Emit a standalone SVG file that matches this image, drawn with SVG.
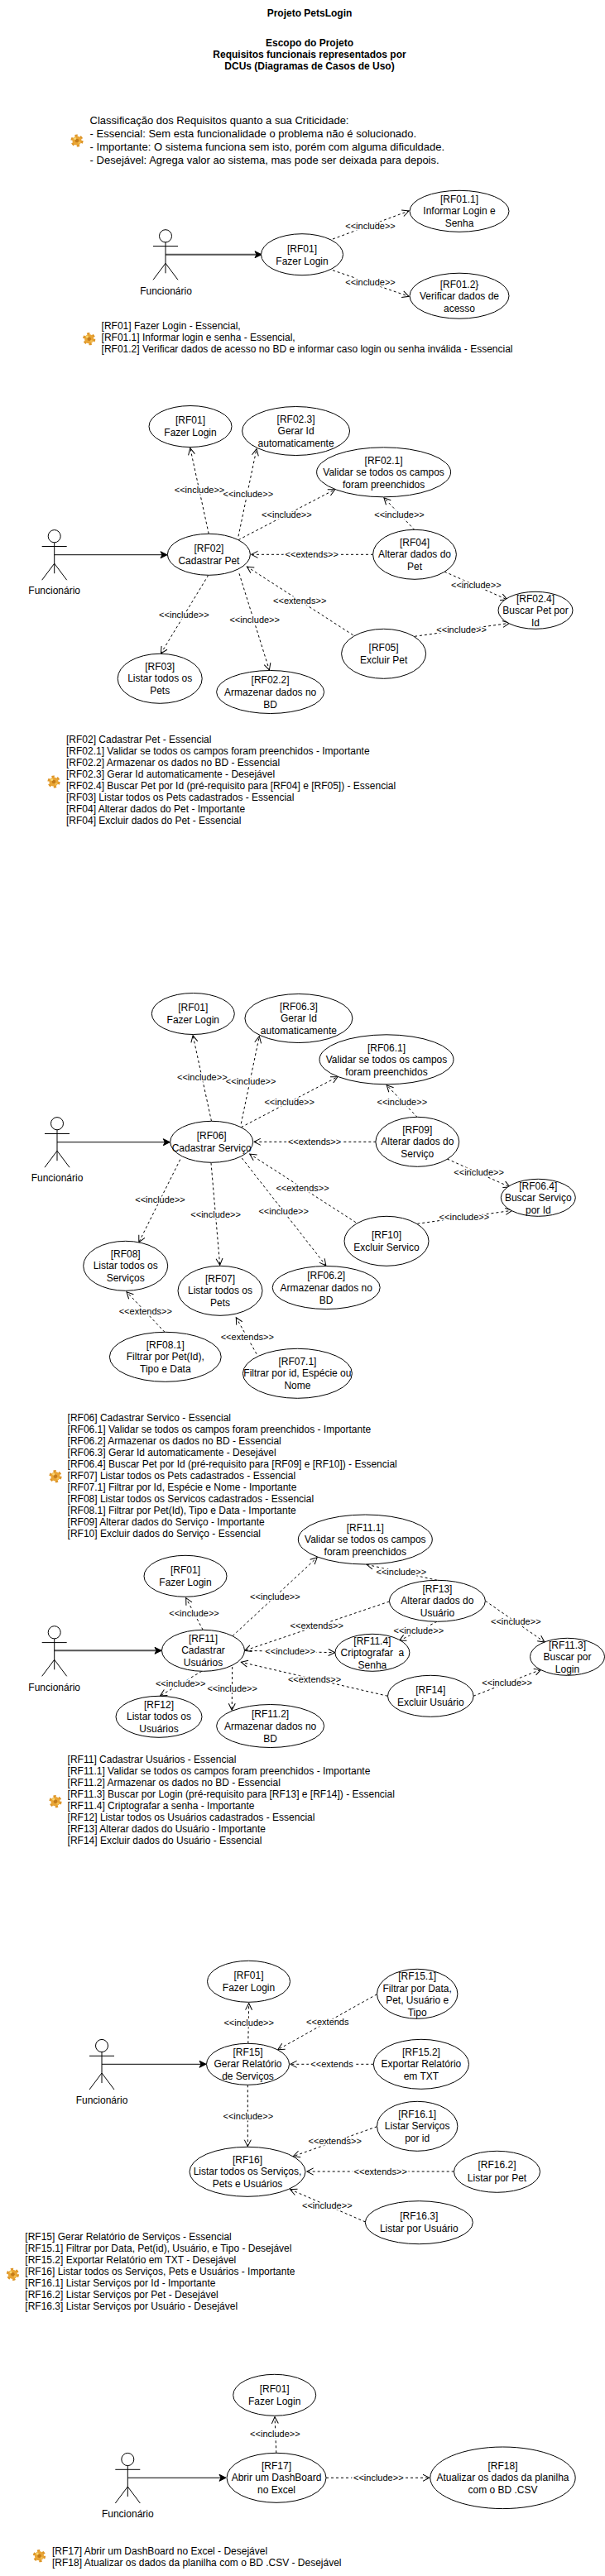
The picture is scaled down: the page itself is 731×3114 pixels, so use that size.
<svg xmlns="http://www.w3.org/2000/svg" xmlns:xlink="http://www.w3.org/1999/xlink" width="731" height="3114" viewBox="0 0 731 3114">
<style>
text{font-family:"Liberation Sans",Arial,sans-serif;fill:#000}
.b{font-size:12px;font-weight:bold;text-anchor:middle}
.t{font-size:12px}
.c{font-size:13px}
.n{font-size:12px;text-anchor:middle}
.l{font-size:11px;text-anchor:middle;paint-order:stroke;stroke:#fff;stroke-width:3px}
.u{fill:#fff;stroke:#000;stroke-width:1}
.a{fill:none;stroke:#000;stroke-width:1}
.d{fill:none;stroke:#000;stroke-width:1;stroke-dasharray:3 3;marker-end:url(#open)}
.s{fill:none;stroke:#000;stroke-width:1;marker-end:url(#solid)}
.s2{fill:none;stroke:#555;stroke-width:2;marker-end:url(#solid)}
</style>
<defs>
<marker id="open" markerUnits="userSpaceOnUse" markerWidth="12" markerHeight="12" refX="9" refY="6" orient="auto"><path d="M1 2 L9 6 L1 10" fill="none" stroke="#000" stroke-width="1"/></marker>
<marker id="solid" markerUnits="userSpaceOnUse" markerWidth="10" markerHeight="10" refX="9" refY="5" orient="auto"><path d="M1 1 L9 5 L1 9 L3 5 Z" fill="#000" stroke="#000" stroke-width="1"/></marker>
<g id="gear"><circle r="6.2" fill="none" stroke="#dd9528" stroke-width="2.8" stroke-dasharray="3.2 3.3"/><circle r="5.6" fill="#e9a535"/><circle r="2.3" fill="#c47c1a"/><circle cx="-2.4" cy="-2.6" r="1.5" fill="#f9d873"/><circle cx="2.8" cy="2.6" r="1.3" fill="#f3c154"/></g>
<g id="actor"><ellipse class="u" cx="0" cy="0" rx="7.5" ry="7.6"/><path class="a" d="M0 7.6V45M-15 12.3H15M0 33L-15 53M0 33L15 53"/></g>
</defs>
<g id="connectors">
<path class="s2" d="M200 307.7H316"/>
<path class="d" d="M402 289L494 255"/><text class="l" x="447.5" y="277">&lt;&lt;include&gt;&gt;</text>
<path class="d" d="M402 326.7L494 358.3"/><text class="l" x="447.5" y="345">&lt;&lt;include&gt;&gt;</text>

<path class="s" d="M65.7 670.7H202"/>
<path class="d" d="M252.2 645.3L229.8 541.7"/><text class="l" x="241" y="596">&lt;&lt;include&gt;&gt;</text>
<path class="d" d="M288 648.3L310 542.7"/><text class="l" x="299.8" y="601">&lt;&lt;include&gt;&gt;</text>
<path class="d" d="M288 652.7L404.7 591.7"/><text class="l" x="346.4" y="626">&lt;&lt;include&gt;&gt;</text>
<path class="d" d="M501 640.7L463.9 601.7"/><text class="l" x="482.5" y="625.5">&lt;&lt;include&gt;&gt;</text>
<path class="d" d="M451 670.3H303.5"/><text class="l" x="376.7" y="674">&lt;&lt;extends&gt;&gt;</text>
<path class="d" d="M537 691L613 725"/><text class="l" x="575.3" y="711">&lt;&lt;include&gt;&gt;</text>
<path class="d" d="M426.6 767.7L298.4 685"/><text class="l" x="362.2" y="730">&lt;&lt;extends&gt;&gt;</text>
<path class="d" d="M501 769.3L615.4 753.3"/><text class="l" x="557.6" y="765">&lt;&lt;include&gt;&gt;</text>
<path class="d" d="M251.7 695.3L194.4 790"/><text class="l" x="222.4" y="747">&lt;&lt;include&gt;&gt;</text>
<path class="d" d="M289 693.3L325.4 810"/><text class="l" x="307.7" y="753">&lt;&lt;include&gt;&gt;</text>

<path class="s" d="M69 1380.7H205.3"/>
<path class="d" d="M255.5 1355.3L233.1 1251.7"/><text class="l" x="244.3" y="1306">&lt;&lt;include&gt;&gt;</text>
<path class="d" d="M291.3 1358.3L313.3 1252.7"/><text class="l" x="303.1" y="1311">&lt;&lt;include&gt;&gt;</text>
<path class="d" d="M291.3 1362.7L408 1301.7"/><text class="l" x="349.7" y="1336">&lt;&lt;include&gt;&gt;</text>
<path class="d" d="M504.3 1350.7L467.2 1311.7"/><text class="l" x="485.8" y="1335.5">&lt;&lt;include&gt;&gt;</text>
<path class="d" d="M454.3 1380.3H306.8"/><text class="l" x="380" y="1384">&lt;&lt;extends&gt;&gt;</text>
<path class="d" d="M540.3 1401L616.3 1435"/><text class="l" x="578.6" y="1421">&lt;&lt;include&gt;&gt;</text>
<path class="d" d="M429.9 1477.7L301.7 1395"/><text class="l" x="365.5" y="1440">&lt;&lt;extends&gt;&gt;</text>
<path class="d" d="M504.3 1479.3L618.7 1463.3"/><text class="l" x="560.9" y="1475">&lt;&lt;include&gt;&gt;</text>
<path class="d" d="M217.7 1401.7L167.8 1501.7"/><text class="l" x="193.5" y="1454">&lt;&lt;include&gt;&gt;</text>
<path class="d" d="M255 1405.7L265.7 1529.3"/><text class="l" x="260.6" y="1472">&lt;&lt;include&gt;&gt;</text>
<path class="d" d="M292.3 1400L393.9 1530"/><text class="l" x="342.7" y="1468">&lt;&lt;include&gt;&gt;</text>
<path class="d" d="M199 1610.3L153 1561.7"/><text class="l" x="175.8" y="1589">&lt;&lt;extends&gt;&gt;</text>
<path class="d" d="M310 1636.7L285.3 1592.7"/><text class="l" x="298.8" y="1620">&lt;&lt;extends&gt;&gt;</text>

<path class="s2" d="M65.7 1995.3H195"/>
<path class="d" d="M245.2 1970.3L224.7 1931.7"/><text class="l" x="234.5" y="1954">&lt;&lt;include&gt;&gt;</text>
<path class="d" d="M281 1977.7L383.2 1882.7"/><text class="l" x="332.4" y="1934">&lt;&lt;include&gt;&gt;</text>
<path class="d" d="M528.2 1910.3L443 1891.3"/><text class="l" x="484.8" y="1904">&lt;&lt;include&gt;&gt;</text>
<path class="d" d="M470.4 1936L295.6 1995.3"/><text class="l" x="382.7" y="1969">&lt;&lt;extends&gt;&gt;</text>
<path class="d" d="M295.6 1995.3L404.7 1997.7"/><text class="l" x="350.6" y="2000">&lt;&lt;include&gt;&gt;</text>
<path class="d" d="M528 1960.3L482.5 1983.3"/><text class="l" x="505.8" y="1975">&lt;&lt;include&gt;&gt;</text>
<path class="d" d="M586.5 1935.3L658 1985"/><text class="l" x="623.3" y="1964">&lt;&lt;include&gt;&gt;</text>
<path class="d" d="M468.5 2050.3L291.4 2009.3"/><text class="l" x="380" y="2034">&lt;&lt;extends&gt;&gt;</text>
<path class="d" d="M572 2050.3L653.6 2018.3"/><text class="l" x="612.6" y="2038">&lt;&lt;include&gt;&gt;</text>
<path class="d" d="M243.8 2020.3L193.5 2050"/><text class="l" x="218.2" y="2039">&lt;&lt;include&gt;&gt;</text>
<path class="d" d="M280.7 2015L280.2 2067.3"/><text class="l" x="280.7" y="2045">&lt;&lt;include&gt;&gt;</text>

<path class="s" d="M123 2495.3H249"/>
<path class="d" d="M299.8 2470.3L300.7 2421.7"/><text class="l" x="300.7" y="2449">&lt;&lt;include&gt;&gt;</text>
<path class="d" d="M455.5 2410.7L335.7 2477.7"/><text class="l" x="395.8" y="2448">&lt;&lt;extends</text>
<path class="d" d="M451.3 2495.3H350.6"/><text class="l" x="401" y="2499">&lt;&lt;extends</text>
<path class="d" d="M299.3 2520.3V2594.7"/><text class="l" x="299.8" y="2562">&lt;&lt;include&gt;&gt;</text>
<path class="d" d="M455.5 2570.7L354.3 2606.7"/><text class="l" x="404.7" y="2592">&lt;&lt;extends&gt;&gt;</text>
<path class="d" d="M548.7 2625H370.6"/><text class="l" x="459.7" y="2629">&lt;&lt;extends&gt;&gt;</text>
<path class="d" d="M441.5 2686L350.6 2646.7"/><text class="l" x="395.3" y="2670">&lt;&lt;include&gt;&gt;</text>

<path class="s" d="M154.3 2995.3H273"/>
<path class="d" d="M333.8 2965.3L332 2921.7"/><text class="l" x="332.4" y="2946">&lt;&lt;include&gt;&gt;</text>
<path class="d" d="M394 2995.3H519"/><text class="l" x="457.3" y="2999">&lt;&lt;include&gt;&gt;</text>
</g>

<g id="header">
<text class="b" x="374" y="20">Projeto PetsLogin</text>
<text class="b"><tspan x="374" y="56">Escopo do Projeto</tspan><tspan x="374" y="70">Requisitos funcionais representados por</tspan><tspan x="374" y="84">DCUs (Diagramas de Casos de Uso)</tspan></text>
</g>
<g id="criticidade"><use xlink:href="#gear" href="#gear" x="93" y="170"/>
<text class="c"><tspan x="108.6" y="149.5">Classificação dos Requisitos quanto a sua Criticidade:</tspan><tspan x="108.6" y="165.5">- Essencial: Sem esta funcionalidade o problema não é solucionado.</tspan><tspan x="108.6" y="181.5">- Importante: O sistema funciona sem isto, porém com alguma dificuldade.</tspan><tspan x="108.6" y="197.5">- Desejável: Agrega valor ao sistema, mas pode ser deixada para depois.</tspan></text></g>

<g id="actor1"><use xlink:href="#actor" href="#actor" x="200" y="285.3"/><text class="n" x="200.5" y="356">Funcionário</text></g>
<g id="uc-rf01-a"><ellipse class="u" cx="365" cy="307.7" rx="49.5" ry="25"/><text class="n"><tspan x="365" y="305">[RF01]</tspan><tspan x="365" y="319.5">Fazer Login</tspan></text></g>
<g id="uc-rf01-1"><ellipse class="u" cx="555" cy="255.3" rx="60" ry="25"/><text class="n"><tspan x="555" y="245">[RF01.1]</tspan><tspan x="555" y="259">Informar Login e</tspan><tspan x="555" y="273.5">Senha</tspan></text></g>
<g id="uc-rf01-2"><ellipse class="u" cx="555" cy="357.7" rx="60" ry="27.5"/><text class="n"><tspan x="555" y="347.5">[RF01.2}</tspan><tspan x="555" y="362">Verificar dados de</tspan><tspan x="555" y="377">acesso</tspan></text></g>
<g id="notes1"><use xlink:href="#gear" href="#gear" x="107.7" y="409.7"/>
<text class="t"><tspan x="122.6" y="398">[RF01] Fazer Login - Essencial,</tspan><tspan x="122.6" y="412">[RF01.1] Informar login e senha - Essencial,</tspan><tspan x="122.6" y="426">[RF01.2] Verificar dados de acesso no BD e informar caso login ou senha inválida - Essencial</tspan></text></g>

<g id="actor2"><use xlink:href="#actor" href="#actor" x="65.7" y="648.2"/><text class="n" x="65.7" y="718">Funcionário</text></g>
<g id="uc-rf01-b"><ellipse class="u" cx="230" cy="515.5" rx="50" ry="25"/><text class="n"><tspan x="230" y="512">[RF01]</tspan><tspan x="230" y="527">Fazer Login</tspan></text></g>
<g id="uc-rf02-3"><ellipse class="u" cx="357.6" cy="521" rx="65" ry="29.5"/><text class="n"><tspan x="357.6" y="511">[RF02.3]</tspan><tspan x="357.6" y="525">Gerar Id</tspan><tspan x="357.6" y="540">automaticamente</tspan></text></g>
<g id="uc-rf02-1"><ellipse class="u" cx="463.6" cy="570.8" rx="81" ry="30"/><text class="n"><tspan x="463.6" y="561">[RF02.1]</tspan><tspan x="463.6" y="575">Validar se todos os campos</tspan><tspan x="463.6" y="590">foram preenchidos</tspan></text></g>
<g id="uc-rf02"><ellipse class="u" cx="252.4" cy="670.3" rx="50" ry="25"/><text class="n"><tspan x="252.4" y="667">[RF02]</tspan><tspan x="252.4" y="681.5">Cadastrar Pet</tspan></text></g>
<g id="uc-rf04"><ellipse class="u" cx="501" cy="670.3" rx="50.4" ry="30"/><text class="n"><tspan x="501" y="660">[RF04]</tspan><tspan x="501" y="674">Alterar dados do</tspan><tspan x="501" y="688.5">Pet</tspan></text></g>
<g id="uc-rf02-4"><ellipse class="u" cx="647" cy="737.8" rx="45" ry="22.5"/><text class="n"><tspan x="647" y="728">[RF02.4]</tspan><tspan x="647" y="742">Buscar Pet por</tspan><tspan x="647" y="757">Id</tspan></text></g>
<g id="uc-rf05"><ellipse class="u" cx="463.6" cy="790.3" rx="51" ry="30"/><text class="n"><tspan x="463.6" y="787">[RF05]</tspan><tspan x="463.6" y="802">Excluir Pet</tspan></text></g>
<g id="uc-rf03"><ellipse class="u" cx="193.2" cy="820.3" rx="51" ry="30"/><text class="n"><tspan x="193.2" y="809.5">[RF03]</tspan><tspan x="193.2" y="824">Listar todos os</tspan><tspan x="193.2" y="839">Pets</tspan></text></g>
<g id="uc-rf02-2"><ellipse class="u" cx="326.6" cy="836.5" rx="65" ry="26"/><text class="n"><tspan x="326.6" y="826">[RF02.2]</tspan><tspan x="326.6" y="840.5">Armazenar dados no</tspan><tspan x="326.6" y="855.5">BD</tspan></text></g>
<g id="notes2"><use xlink:href="#gear" href="#gear" x="65" y="945"/>
<text class="t"><tspan x="80" y="898">[RF02] Cadastrar Pet - Essencial</tspan><tspan x="80" y="912">[RF02.1] Validar se todos os campos foram preenchidos - Importante</tspan><tspan x="80" y="926">[RF02.2] Armazenar os dados no BD - Essencial</tspan><tspan x="80" y="940">[RF02.3] Gerar Id automaticamente - Desejável</tspan><tspan x="80" y="954">[RF02.4] Buscar Pet por Id (pré-requisito para [RF04] e [RF05]) - Essencial</tspan><tspan x="80" y="968">[RF03] Listar todos os Pets cadastrados - Essencial</tspan><tspan x="80" y="982">[RF04] Alterar dados do Pet - Importante</tspan><tspan x="80" y="996">[RF04] Excluir dados do Pet - Essencial</tspan></text></g>

<g id="actor3"><use xlink:href="#actor" href="#actor" x="69" y="1358.2"/><text class="n" x="69" y="1428">Funcionário</text></g>
<g id="uc-rf01-c"><ellipse class="u" cx="233.3" cy="1225.5" rx="50" ry="25"/><text class="n"><tspan x="233.3" y="1222">[RF01]</tspan><tspan x="233.3" y="1237">Fazer Login</tspan></text></g>
<g id="uc-rf06-3"><ellipse class="u" cx="360.9" cy="1231" rx="65" ry="29.5"/><text class="n"><tspan x="360.9" y="1221">[RF06.3]</tspan><tspan x="360.9" y="1235">Gerar Id</tspan><tspan x="360.9" y="1250">automaticamente</tspan></text></g>
<g id="uc-rf06-1"><ellipse class="u" cx="467" cy="1280.8" rx="81" ry="30"/><text class="n"><tspan x="467" y="1271">[RF06.1]</tspan><tspan x="467" y="1285">Validar se todos os campos</tspan><tspan x="467" y="1300">foram preenchidos</tspan></text></g>
<g id="uc-rf06"><ellipse class="u" cx="255.7" cy="1380.3" rx="50" ry="25"/><text class="n"><tspan x="255.7" y="1377">[RF06]</tspan><tspan x="255.7" y="1391.5">Cadastrar Serviço</tspan></text></g>
<g id="uc-rf09"><ellipse class="u" cx="504.3" cy="1380.3" rx="50.4" ry="30"/><text class="n"><tspan x="504.3" y="1370">[RF09]</tspan><tspan x="504.3" y="1384">Alterar dados do</tspan><tspan x="504.3" y="1398.5">Serviço</tspan></text></g>
<g id="uc-rf06-4"><ellipse class="u" cx="650.3" cy="1447.8" rx="45" ry="22.5"/><text class="n"><tspan x="650.3" y="1438">[RF06.4]</tspan><tspan x="650.3" y="1452">Buscar Serviço</tspan><tspan x="650.3" y="1467">por Id</tspan></text></g>
<g id="uc-rf10"><ellipse class="u" cx="467" cy="1500.3" rx="51" ry="30"/><text class="n"><tspan x="467" y="1497">[RF10]</tspan><tspan x="467" y="1512">Excluir Servico</tspan></text></g>
<g id="uc-rf08"><ellipse class="u" cx="151.7" cy="1530.3" rx="51" ry="30"/><text class="n"><tspan x="151.7" y="1519.5">[RF08]</tspan><tspan x="151.7" y="1534">Listar todos os</tspan><tspan x="151.7" y="1548.5">Serviços</tspan></text></g>
<g id="uc-rf07"><ellipse class="u" cx="266" cy="1560.3" rx="51" ry="30"/><text class="n"><tspan x="266" y="1550">[RF07]</tspan><tspan x="266" y="1564">Listar todos os</tspan><tspan x="266" y="1579">Pets</tspan></text></g>
<g id="uc-rf06-2"><ellipse class="u" cx="394.2" cy="1556.5" rx="65" ry="26"/><text class="n"><tspan x="394.2" y="1546">[RF06.2]</tspan><tspan x="394.2" y="1560.5">Armazenar dados no</tspan><tspan x="394.2" y="1575.5">BD</tspan></text></g>
<g id="uc-rf08-1"><ellipse class="u" cx="199.8" cy="1640.3" rx="67.4" ry="30"/><text class="n"><tspan x="199.8" y="1629.5">[RF08.1]</tspan><tspan x="199.8" y="1644">Filtrar por Pet(Id),</tspan><tspan x="199.8" y="1659">Tipo e Data</tspan></text></g>
<g id="uc-rf07-1"><ellipse class="u" cx="359.4" cy="1660.3" rx="66" ry="30"/><text class="n"><tspan x="359.4" y="1649.5">[RF07.1]</tspan><tspan x="359.4" y="1664">Filtrar por id, Espécie ou</tspan><tspan x="359.4" y="1679">Nome</tspan></text></g>
<g id="notes3"><use xlink:href="#gear" href="#gear" x="67" y="1784.7"/>
<text class="t"><tspan x="81.6" y="1718">[RF06] Cadastrar Servico - Essencial</tspan><tspan x="81.6" y="1732">[RF06.1] Validar se todos os campos foram preenchidos - Importante</tspan><tspan x="81.6" y="1746">[RF06.2] Armazenar os dados no BD - Essencial</tspan><tspan x="81.6" y="1760">[RF06.3] Gerar Id automaticamente - Desejável</tspan><tspan x="81.6" y="1774">[RF06.4] Buscar Pet por Id (pré-requisito para [RF09] e [RF10]) - Essencial</tspan><tspan x="81.6" y="1788">[RF07] Listar todos os Pets cadastrados - Essencial</tspan><tspan x="81.6" y="1802">[RF07.1] Filtrar por Id, Espécie e Nome - Importante</tspan><tspan x="81.6" y="1816">[RF08] Listar todos os Servicos cadastrados - Essencial</tspan><tspan x="81.6" y="1830">[RF08.1] Filtrar por Pet(Id), Tipo e Data - Importante</tspan><tspan x="81.6" y="1844">[RF09] Alterar dados do Serviço - Importante</tspan><tspan x="81.6" y="1858">[RF10] Excluir dados do Serviço - Essencial</tspan></text></g>

<g id="actor4"><use xlink:href="#actor" href="#actor" x="65.7" y="1973.3"/><text class="n" x="65.7" y="2044">Funcionário</text></g>
<g id="uc-rf11-1"><ellipse class="u" cx="441.3" cy="1861" rx="81" ry="30"/><text class="n"><tspan x="441.3" y="1851">[RF11.1]</tspan><tspan x="441.3" y="1865">Validar se todos os campos</tspan><tspan x="441.3" y="1880">foram preenchidos</tspan></text></g>
<g id="uc-rf01-d"><ellipse class="u" cx="224" cy="1905.3" rx="50" ry="25"/><text class="n"><tspan x="224" y="1902">[RF01]</tspan><tspan x="224" y="1917">Fazer Login</tspan></text></g>
<g id="uc-rf11"><ellipse class="u" cx="245.5" cy="1995.3" rx="50" ry="25"/><text class="n"><tspan x="245.5" y="1985">[RF11]</tspan><tspan x="245.5" y="1999">Cadastrar</tspan><tspan x="245.5" y="2014">Usuários</tspan></text></g>
<g id="uc-rf13"><ellipse class="u" cx="528.4" cy="1935.3" rx="58" ry="25"/><text class="n"><tspan x="528.4" y="1925">[RF13]</tspan><tspan x="528.4" y="1939">Alterar dados do</tspan><tspan x="528.4" y="1954">Usuário</tspan></text></g>
<g id="uc-rf11-4"><ellipse class="u" cx="449.9" cy="1997.8" rx="45" ry="22.5"/><text class="n"><tspan x="449.9" y="1988">[RF11.4]</tspan><tspan x="449.9" y="2002" xml:space="preserve">Criptografar  a</tspan><tspan x="449.9" y="2017">Senha</tspan></text></g>
<g id="uc-rf11-3"><ellipse class="u" cx="685.5" cy="2002.8" rx="45" ry="22.5"/><text class="n"><tspan x="685.5" y="1993">[RF11.3]</tspan><tspan x="685.5" y="2007">Buscar por</tspan><tspan x="685.5" y="2022">Login</tspan></text></g>
<g id="uc-rf14"><ellipse class="u" cx="520.3" cy="2050.3" rx="51.8" ry="25"/><text class="n"><tspan x="520.3" y="2047">[RF14]</tspan><tspan x="520.3" y="2062">Excluir Usuário</tspan></text></g>
<g id="uc-rf12"><ellipse class="u" cx="192" cy="2075.3" rx="52" ry="25"/><text class="n"><tspan x="192" y="2065">[RF12]</tspan><tspan x="192" y="2079">Listar todos os</tspan><tspan x="192" y="2094">Usuários</tspan></text></g>
<g id="uc-rf11-2"><ellipse class="u" cx="326.6" cy="2086.5" rx="65" ry="26"/><text class="n"><tspan x="326.6" y="2076">[RF11.2]</tspan><tspan x="326.6" y="2090.5">Armazenar dados no</tspan><tspan x="326.6" y="2105.5">BD</tspan></text></g>
<g id="notes4"><use xlink:href="#gear" href="#gear" x="67" y="2177.7"/>
<text class="t"><tspan x="81.6" y="2131">[RF11] Cadastrar Usuários - Essencial</tspan><tspan x="81.6" y="2145">[RF11.1] Validar se todos os campos foram preenchidos - Importante</tspan><tspan x="81.6" y="2159">[RF11.2] Armazenar os dados no BD - Essencial</tspan><tspan x="81.6" y="2173">[RF11.3] Buscar por Login (pré-requisito para [RF13] e [RF14]) - Essencial</tspan><tspan x="81.6" y="2187">[RF11.4] Criptografar a senha - Importante</tspan><tspan x="81.6" y="2201">[RF12] Listar todos os Usuários cadastrados - Essencial</tspan><tspan x="81.6" y="2215">[RF13] Alterar dados do Usuário - Importante</tspan><tspan x="81.6" y="2229">[RF14] Excluir dados do Usuário - Essencial</tspan></text></g>

<g id="actor5"><use xlink:href="#actor" href="#actor" x="123" y="2473"/><text class="n" x="123" y="2543">Funcionário</text></g>
<g id="uc-rf01-e"><ellipse class="u" cx="300.5" cy="2395.3" rx="50" ry="25"/><text class="n"><tspan x="300.5" y="2392">[RF01]</tspan><tspan x="300.5" y="2407">Fazer Login</tspan></text></g>
<g id="uc-rf15-1"><ellipse class="u" cx="504.2" cy="2410.3" rx="48.7" ry="30"/><text class="n"><tspan x="504.2" y="2393">[RF15.1]</tspan><tspan x="504.2" y="2407.5">Filtrar por Data,</tspan><tspan x="504.2" y="2422">Pet, Usuário e</tspan><tspan x="504.2" y="2436.5">Tipo</tspan></text></g>
<g id="uc-rf15"><ellipse class="u" cx="299.5" cy="2495.3" rx="50" ry="25"/><text class="n"><tspan x="299.5" y="2485">[RF15]</tspan><tspan x="299.5" y="2499">Gerar Relatório</tspan><tspan x="299.5" y="2514">de Serviços</tspan></text></g>
<g id="uc-rf15-2"><ellipse class="u" cx="508.9" cy="2495.3" rx="57.6" ry="30"/><text class="n"><tspan x="508.9" y="2485">[RF15.2]</tspan><tspan x="508.9" y="2499">Exportar Relatório</tspan><tspan x="508.9" y="2514">em TXT</tspan></text></g>
<g id="uc-rf16-1"><ellipse class="u" cx="504.2" cy="2570.3" rx="48.7" ry="30"/><text class="n"><tspan x="504.2" y="2560">[RF16.1]</tspan><tspan x="504.2" y="2574">Listar Serviços</tspan><tspan x="504.2" y="2589">por id</tspan></text></g>
<g id="uc-rf16"><ellipse class="u" cx="299" cy="2625.3" rx="70" ry="30"/><text class="n"><tspan x="299" y="2615">[RF16]</tspan><tspan x="299" y="2629">Listar todos os Serviços,</tspan><tspan x="299" y="2644">Pets e Usuários</tspan></text></g>
<g id="uc-rf16-2"><ellipse class="u" cx="600.5" cy="2625.3" rx="52" ry="25"/><text class="n"><tspan x="600.5" y="2621">[RF16.2]</tspan><tspan x="600.5" y="2637">Listar por Pet</tspan></text></g>
<g id="uc-rf16-3"><ellipse class="u" cx="506.3" cy="2686.7" rx="65" ry="26"/><text class="n"><tspan x="506.3" y="2683">[RF16.3]</tspan><tspan x="506.3" y="2698">Listar por Usuário</tspan></text></g>
<g id="notes5"><use xlink:href="#gear" href="#gear" x="15.4" y="2749.3"/>
<text class="t"><tspan x="30.3" y="2708">[RF15] Gerar Relatório de Serviços - Essencial</tspan><tspan x="30.3" y="2722">[RF15.1] Filtrar por Data, Pet(id), Usuário, e Tipo - Desejável</tspan><tspan x="30.3" y="2736">[RF15.2] Exportar Relatório em TXT - Desejável</tspan><tspan x="30.3" y="2750">[RF16] Listar todos os Serviços, Pets e Usuários - Importante</tspan><tspan x="30.3" y="2764">[RF16.1] Listar Serviços por Id - Importante</tspan><tspan x="30.3" y="2778">[RF16.2] Listar Serviços por Pet - Desejável</tspan><tspan x="30.3" y="2792">[RF16.3] Listar Serviços por Usuário - Desejável</tspan></text></g>

<g id="actor6"><use xlink:href="#actor" href="#actor" x="154.3" y="2973"/><text class="n" x="154.3" y="3043">Funcionário</text></g>
<g id="uc-rf01-f"><ellipse class="u" cx="331.7" cy="2895.3" rx="50" ry="25"/><text class="n"><tspan x="331.7" y="2892">[RF01]</tspan><tspan x="331.7" y="2907">Fazer Login</tspan></text></g>
<g id="uc-rf17"><ellipse class="u" cx="334" cy="2995.3" rx="60" ry="30"/><text class="n"><tspan x="334" y="2985">[RF17]</tspan><tspan x="334" y="2999">Abrir um DashBoard</tspan><tspan x="334" y="3014">no Excel</tspan></text></g>
<g id="uc-rf18"><ellipse class="u" cx="607.5" cy="2995.3" rx="87.7" ry="37.3"/><text class="n"><tspan x="607.5" y="2985">[RF18]</tspan><tspan x="607.5" y="2999">Atualizar os dados da planilha</tspan><tspan x="607.5" y="3014">com o BD .CSV</tspan></text></g>
<g id="notes6"><use xlink:href="#gear" href="#gear" x="47.5" y="3089.7"/>
<text class="t"><tspan x="63" y="3088">[RF17] Abrir um DashBoard no Excel - Desejável</tspan><tspan x="63" y="3102">[RF18] Atualizar os dados da planilha com o BD .CSV - Desejável</tspan></text></g>
</svg>
